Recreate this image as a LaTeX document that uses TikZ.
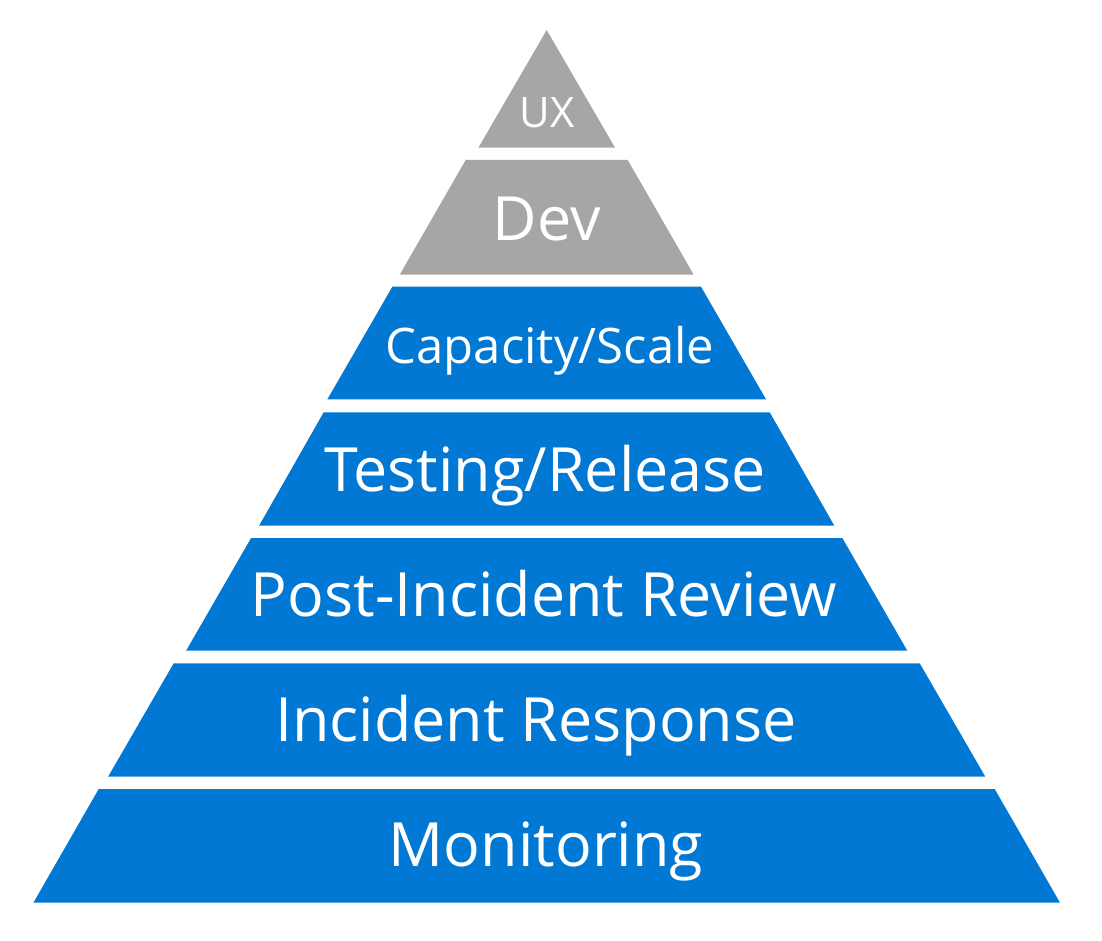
\documentclass[tikz,border=0pt]{standalone}
\usepackage{fontspec}
\setmainfont{Open Sans}
\definecolor{pblue}{HTML}{0078D4}
\definecolor{pgray}{HTML}{A6A6A6}
\tikzset{
  lbl/.style={text=white, anchor=base, inner sep=0pt},
  big/.style={lbl, font=\fontsize{61}{70}\selectfont},
  mid/.style={lbl, font=\fontsize{49}{56}\selectfont},
  small/.style={lbl, font=\fontsize{42}{48}\selectfont},
}
\newcommand{\layer}[5]{% color, ytop, halftop, ybot, halfbot
  \fill[#1] (546.7-#3,#2) -- (546.7+#3,#2) -- (546.7+#5,#4) -- (546.7-#5,#4) -- cycle;}
\begin{document}
\begin{tikzpicture}[x=1pt,y=-1pt]
\useasboundingbox (0,0) rectangle (1102,941);
\fill[white] (0,0) rectangle (1102,941);
\fill[pgray] (546.7,30) -- (615,147.7) -- (478.4,147.7) -- cycle;
\layer{pgray}{160}{81}{274.7}{147}
\layer{pblue}{286.7}{154.3}{399.3}{219.3}
\layer{pblue}{412.3}{223}{525.7}{287.6}
\layer{pblue}{538}{295.6}{650.7}{360.6}
\layer{pblue}{663.3}{373}{776.7}{438.6}
\layer{pblue}{789}{448}{902.7}{513.3}
\node[small] (ux)  at (547,127.3) {UX};
\node[big]   (dev) at (547,240.7) {Dev};
\node[mid]   (cap) at (550,363.3) {Capacity/Scale};
\node[big]   (tst) at (545,491) {Testing/Release};
\node[big]   (pir) at (544,616.5) {Post-Incident Review};
\node[big]   (ir)  at (536,741.7) {Incident Response};
\node[big]   (mon) at (546,866.7) {Monitoring};
\end{tikzpicture}
\end{document}
